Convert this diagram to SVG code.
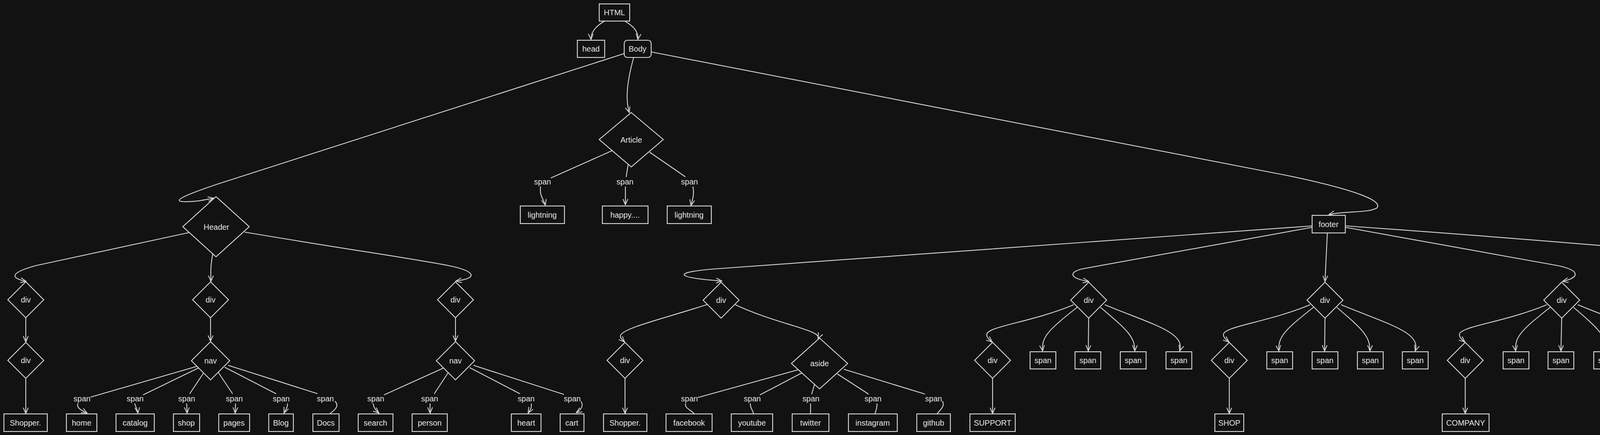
<svg xmlns="http://www.w3.org/2000/svg" width="4761" height="1113" viewBox="0 0 4761 1113">
<defs>
<style>
.bg{fill:#121212}
.n rect,.n polygon{fill:#121212;stroke:#dcdcdc;stroke-width:2.2}
.n text,.lbl{fill:#e4e4e4;font-family:"Liberation Sans","DejaVu Sans",sans-serif;font-size:20px;text-anchor:middle;dominant-baseline:central}
.c path{fill:none;stroke:#d6d6d6;stroke-width:2.2;stroke-linecap:round}
.c path.a{marker-end:url(#ah)}
</style>
<marker id="ah" viewBox="0 0 16 14" refX="15" refY="7" markerWidth="16" markerHeight="14" orient="auto" markerUnits="userSpaceOnUse">
<path d="M1,1 L15,7 L1,13" fill="none" stroke="#d6d6d6" stroke-width="2" stroke-linecap="round" stroke-linejoin="round"/>
</marker>
</defs>
<rect class="bg" x="0" y="0" width="4761" height="1113"/>

<g id="connectors" class="c">
<path class="a" d="M1546,55 Q1512,75 1513,101"/>
<path class="a" d="M1601,55 Q1636,75 1633,101"/>
<path class="a" d="M1622,148 Q1596,240 1611,288"/>
<path class="a" d="M1598,137 L560,470 C470,500 440,515 470,516 C500,517 520,512 547,507"/>
<path class="a" d="M1668,133 L3300,450 C3480,488 3540,515 3525,532 C3505,545 3440,540 3402,549"/>

<path class="a" d="M484,595 L90,680 C20,700 30,712 67,720"/>
<path class="a" d="M545,648 C538,680 540,700 540,720"/>
<path class="a" d="M627,594 C900,640 1100,668 1160,682 C1215,695 1225,712 1167,719"/>
<path class="a" d="M66,813 L66,875"/>
<path class="a" d="M66,968 L66,1058"/>
<path class="a" d="M539,813 L539,873"/>
<path class="a" d="M1166,813 L1166,873"/>

<path d="M512,935 L232,1016"/>
<path class="a" d="M199,1033 C196,1045 210,1050 223,1057"/>
<path d="M511,940 L367,1010"/>
<path class="a" d="M345,1033 C348,1043 352,1048 353,1057"/>
<path d="M520,956 L486,1007"/>
<path class="a" d="M478,1033 L479,1057"/>
<path d="M559,953 L595,1007"/>
<path class="a" d="M603,1033 L602,1057"/>
<path d="M576,940 L706,1007"/>
<path class="a" d="M736,1033 C736,1045 730,1050 727,1057"/>
<path d="M585,935 L812,1007"/>
<path d="M858,1027 C870,1040 855,1050 845,1058"/>

<path d="M1139,940 L984,1010"/>
<path class="a" d="M955,1033 C958,1045 962,1050 970,1057"/>
<path d="M1147,954 L1112,1007"/>
<path class="a" d="M1101,1033 L1101,1057"/>
<path d="M1203,941 L1330,1007"/>
<path class="a" d="M1360,1033 C1362,1045 1356,1050 1352,1057"/>
<path d="M1213,935 L1443,1009"/>
<path class="a" d="M1488,1028 C1495,1040 1485,1050 1475,1056"/>

<path d="M1568,385 L1411,455"/>
<path class="a" d="M1384,478 C1380,500 1392,510 1396,525"/>
<path d="M1608,422 L1603,452"/>
<path class="a" d="M1601,478 L1601,524"/>
<path d="M1664,390 L1754,452"/>
<path class="a" d="M1774,478 C1778,500 1772,512 1769,526"/>

<path class="a" d="M3359,578 L1830,688 C1720,697 1725,710 1848,719"/>
<path class="a" d="M3357,582 L2770,688 C2735,697 2738,712 2787,720"/>
<path class="a" d="M3398,596 L3392,720"/>
<path class="a" d="M3446,582 L3990,680 C4045,692 4045,710 4000,720"/>
<path class="a" d="M3446,578 C4100,625 4560,665 4600,688 C4640,705 4610,716 4547,720"/>

<path class="a" d="M1811,779 C1700,815 1590,840 1588,860 C1588,866 1594,870 1599,875"/>
<path class="a" d="M1883,780 C1990,830 2105,845 2094,866"/>
<path class="a" d="M1600,968 L1600,1058"/>
<path d="M2054,943 L1787,1017"/>
<path d="M1755,1033 C1752,1045 1772,1050 1777,1059"/>
<path d="M2055,953 L1946,1010"/>
<path d="M1921,1033 C1920,1045 1928,1050 1929,1059"/>
<path d="M2085,984 L2078,1008"/>
<path d="M2075,1033 L2075,1059"/>
<path d="M2144,957 L2223,1008"/>
<path d="M2245,1033 C2246,1045 2241,1052 2240,1059"/>
<path d="M2161,945 L2367,1008"/>
<path d="M2413,1027 C2420,1040 2405,1050 2399,1059"/>

<path class="a" d="M2748,780 C2640,825 2526,835 2526,856 C2526,864 2534,870 2540,875"/>
<path class="a" d="M2759,785 C2690,840 2665,860 2669,898"/>
<path class="a" d="M2787,814 L2786,898"/>
<path class="a" d="M2818,787 C2880,840 2906,860 2905,898"/>
<path class="a" d="M2829,780 C2950,830 3035,850 3020,898"/>
<path class="a" d="M2541,968 L2541,1058"/>

<path class="a" d="M3353,780 C3245,825 3132,835 3132,856 C3132,864 3140,870 3146,875"/>
<path class="a" d="M3364,785 C3295,840 3270,860 3274,898"/>
<path class="a" d="M3392,814 L3391,898"/>
<path class="a" d="M3423,787 C3485,840 3508,860 3507,898"/>
<path class="a" d="M3434,780 C3555,830 3638,850 3623,898"/>
<path class="a" d="M3147,968 L3147,1058"/>

<path class="a" d="M3959,780 C3851,825 3736,835 3736,856 C3736,864 3744,870 3750,875"/>
<path class="a" d="M3970,785 C3901,840 3876,860 3880,898"/>
<path class="a" d="M3998,814 L3996,898"/>
<path class="a" d="M4029,787 C4091,840 4113,860 4112,898"/>
<path class="a" d="M4040,780 C4161,830 4243,850 4228,898"/>
<path class="a" d="M3751,968 L3751,1058"/>

<path class="a" d="M4510,781 C4420,820 4343,835 4343,856 C4343,864 4350,870 4355,875"/>
<path class="a" d="M4523,795 C4495,830 4483,855 4485,898"/>
<path class="a" d="M4569,795 C4595,830 4608,855 4604,898"/>
<path class="a" d="M4580,783 C4700,830 4735,855 4719,898"/>
<path class="a" d="M4357,968 L4357,1058"/>

<text class="lbl" x="210" y="1020">span</text>
<text class="lbl" x="346" y="1020">span</text>
<text class="lbl" x="478" y="1020">span</text>
<text class="lbl" x="600" y="1020">span</text>
<text class="lbl" x="720" y="1020">span</text>
<text class="lbl" x="833" y="1020">span</text>
<text class="lbl" x="962" y="1020">span</text>
<text class="lbl" x="1100" y="1020">span</text>
<text class="lbl" x="1347" y="1020">span</text>
<text class="lbl" x="1465" y="1020">span</text>
<text class="lbl" x="1389" y="465">span</text>
<text class="lbl" x="1600" y="465">span</text>
<text class="lbl" x="1765" y="465">span</text>
<text class="lbl" x="1765" y="1020">span</text>
<text class="lbl" x="1926" y="1020">span</text>
<text class="lbl" x="2076" y="1020">span</text>
<text class="lbl" x="2235" y="1020">span</text>
<text class="lbl" x="2390" y="1020">span</text>
</g>

<g id="html" class="n"><rect x="1534" y="10" width="78" height="44"/><text x="1573" y="32">HTML</text></g>
<g id="head" class="n"><rect x="1478" y="103" width="70" height="44"/><text x="1513" y="125">head</text></g>
<g id="body" class="n"><rect x="1598" y="103" width="69" height="44" rx="8"/><text x="1632" y="125">Body</text></g>

<g id="article" class="n"><polygon points="1616,288 1698,357 1616,427 1534,357"/><text x="1616" y="358">Article</text></g>
<g id="art-l1" class="n"><rect x="1332" y="527" width="113" height="45"/><text x="1388" y="550">lightning</text></g>
<g id="art-happy" class="n"><rect x="1542" y="527" width="117" height="45"/><text x="1600" y="550">happy....</text></g>
<g id="art-l2" class="n"><rect x="1708" y="527" width="113" height="45"/><text x="1764" y="550">lightning</text></g>

<g id="header" class="n"><polygon points="553,503 638,580 553,657 468,580"/><text x="554" y="581">Header</text></g>
<g id="h-div1" class="n"><polygon points="66,721 112,767 66,813 20,767"/><text x="66" y="767">div</text></g>
<g id="h-div1b" class="n"><polygon points="66,876 112,922 66,968 20,922"/><text x="66" y="922">div</text></g>
<g id="h-shopper" class="n"><rect x="10" y="1059" width="111" height="45"/><text x="65" y="1082">Shopper.</text></g>
<g id="h-div2" class="n"><polygon points="539,721 585,767 539,813 493,767"/><text x="539" y="767">div</text></g>
<g id="h-nav1" class="n"><polygon points="539,874 588,923 539,972 490,923"/><text x="539" y="923">nav</text></g>
<g id="n-home" class="n"><rect x="170" y="1059" width="78" height="45"/><text x="209" y="1082">home</text></g>
<g id="n-catalog" class="n"><rect x="297" y="1059" width="98" height="45"/><text x="346" y="1082">catalog</text></g>
<g id="n-shop" class="n"><rect x="444" y="1059" width="67" height="45"/><text x="477" y="1082">shop</text></g>
<g id="n-pages" class="n"><rect x="560" y="1059" width="79" height="45"/><text x="599" y="1082">pages</text></g>
<g id="n-blog" class="n"><rect x="688" y="1059" width="63" height="45"/><text x="719" y="1082">Blog</text></g>
<g id="n-docs" class="n"><rect x="801" y="1059" width="67" height="45"/><text x="834" y="1082">Docs</text></g>
<g id="h-div3" class="n"><polygon points="1166,721 1212,767 1166,813 1120,767"/><text x="1166" y="767">div</text></g>
<g id="h-nav2" class="n"><polygon points="1166,874 1215,923 1166,972 1117,923"/><text x="1166" y="923">nav</text></g>
<g id="n-search" class="n"><rect x="917" y="1059" width="89" height="45"/><text x="961" y="1082">search</text></g>
<g id="n-person" class="n"><rect x="1055" y="1059" width="90" height="45"/><text x="1100" y="1082">person</text></g>
<g id="n-heart" class="n"><rect x="1309" y="1059" width="76" height="45"/><text x="1347" y="1082">heart</text></g>
<g id="n-cart" class="n"><rect x="1434" y="1059" width="61" height="45"/><text x="1464" y="1082">cart</text></g>

<g id="footer" class="n"><rect x="3359" y="551" width="85" height="45"/><text x="3401" y="574">footer</text></g>

<g id="f-div1" class="n"><polygon points="1846,722 1892,768 1846,814 1800,768"/><text x="1846" y="768">div</text></g>
<g id="f-div1b" class="n"><polygon points="1600,876 1646,922 1600,968 1554,922"/><text x="1600" y="922">div</text></g>
<g id="f-shopper" class="n"><rect x="1545" y="1059" width="111" height="45"/><text x="1600" y="1082">Shopper.</text></g>
<g id="f-aside" class="n"><polygon points="2098,865 2170,930 2098,995 2026,930"/><text x="2098" y="930">aside</text></g>
<g id="a-facebook" class="n"><rect x="1705" y="1059" width="118" height="45"/><text x="1764" y="1082">facebook</text></g>
<g id="a-youtube" class="n"><rect x="1872" y="1059" width="106" height="45"/><text x="1925" y="1082">youtube</text></g>
<g id="a-twitter" class="n"><rect x="2028" y="1059" width="94" height="45"/><text x="2075" y="1082">twitter</text></g>
<g id="a-instagram" class="n"><rect x="2172" y="1059" width="125" height="45"/><text x="2234" y="1082">instagram</text></g>
<g id="a-github" class="n"><rect x="2347" y="1059" width="86" height="45"/><text x="2390" y="1082">github</text></g>

<g id="f-div2" class="n"><polygon points="2787,722 2833,768 2787,814 2741,768"/><text x="2787" y="768">div</text></g>
<g id="f-div2b" class="n"><polygon points="2541,876 2587,922 2541,968 2495,922"/><text x="2541" y="922">div</text></g>
<g id="f-support" class="n"><rect x="2483" y="1059" width="116" height="45"/><text x="2541" y="1082">SUPPORT</text></g>
<g id="f2-s1" class="n"><rect x="2637" y="900" width="66" height="44"/><text x="2670" y="922">span</text></g>
<g id="f2-s2" class="n"><rect x="2752" y="900" width="66" height="44"/><text x="2785" y="922">span</text></g>
<g id="f2-s3" class="n"><rect x="2868" y="900" width="66" height="44"/><text x="2901" y="922">span</text></g>
<g id="f2-s4" class="n"><rect x="2985" y="900" width="66" height="44"/><text x="3018" y="922">span</text></g>

<g id="f-div3" class="n"><polygon points="3392,722 3438,768 3392,814 3346,768"/><text x="3392" y="768">div</text></g>
<g id="f-div3b" class="n"><polygon points="3147,876 3193,922 3147,968 3101,922"/><text x="3147" y="922">div</text></g>
<g id="f-shop" class="n"><rect x="3110" y="1059" width="74" height="45"/><text x="3147" y="1082">SHOP</text></g>
<g id="f3-s1" class="n"><rect x="3243" y="900" width="66" height="44"/><text x="3276" y="922">span</text></g>
<g id="f3-s2" class="n"><rect x="3359" y="900" width="66" height="44"/><text x="3392" y="922">span</text></g>
<g id="f3-s3" class="n"><rect x="3475" y="900" width="66" height="44"/><text x="3508" y="922">span</text></g>
<g id="f3-s4" class="n"><rect x="3590" y="900" width="66" height="44"/><text x="3623" y="922">span</text></g>

<g id="f-div4" class="n"><polygon points="3998,722 4044,768 3998,814 3952,768"/><text x="3998" y="768">div</text></g>
<g id="f-div4b" class="n"><polygon points="3751,876 3797,922 3751,968 3705,922"/><text x="3751" y="922">div</text></g>
<g id="f-company" class="n"><rect x="3692" y="1059" width="120" height="45"/><text x="3752" y="1082">COMPANY</text></g>
<g id="f4-s1" class="n"><rect x="3848" y="900" width="66" height="44"/><text x="3881" y="922">span</text></g>
<g id="f4-s2" class="n"><rect x="3963" y="900" width="66" height="44"/><text x="3996" y="922">span</text></g>
<g id="f4-s3" class="n"><rect x="4080" y="900" width="66" height="44"/><text x="4113" y="922">span</text></g>
<g id="f4-s4" class="n"><rect x="4196" y="900" width="66" height="44"/><text x="4229" y="922">span</text></g>

<g id="f-div5" class="n"><polygon points="4545,722 4591,768 4545,814 4499,768"/><text x="4545" y="768">div</text></g>
<g id="f-div5b" class="n"><polygon points="4357,876 4403,922 4357,968 4311,922"/><text x="4357" y="922">div</text></g>
<g id="f-contact" class="n"><rect x="4298" y="1059" width="119" height="45"/><text x="4357" y="1082">CONTACT</text></g>
<g id="f5-s1" class="n"><rect x="4453" y="900" width="66" height="44"/><text x="4486" y="922">span</text></g>
<g id="f5-s2" class="n"><rect x="4569" y="900" width="66" height="44"/><text x="4602" y="922">span</text></g>
<g id="f5-s3" class="n"><rect x="4685" y="900" width="66" height="44"/><text x="4718" y="922">span</text></g>
</svg>
